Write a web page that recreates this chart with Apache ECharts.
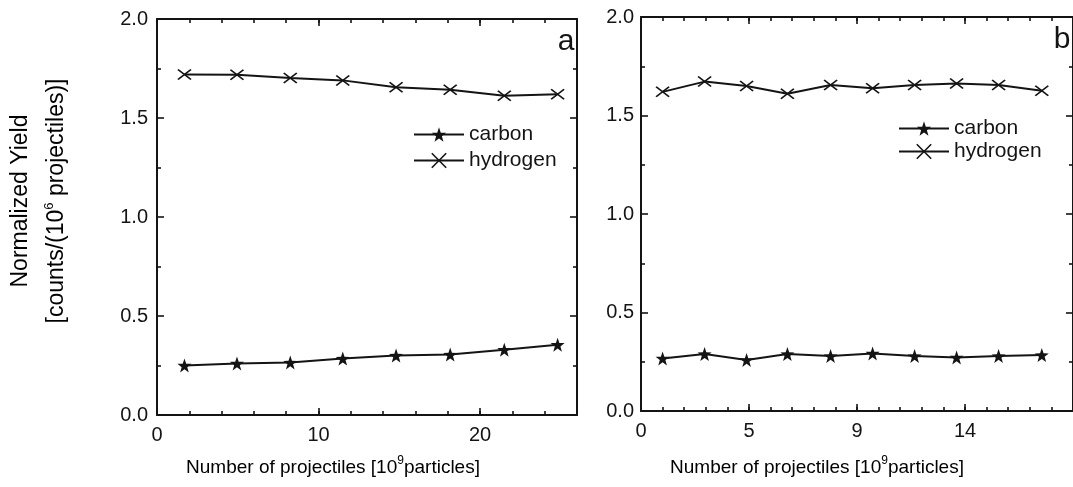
<!DOCTYPE html>
<html>
<head>
<meta charset="utf-8">
<style>
  html, body { margin: 0; padding: 0; background: #fff; }
  #chart { width: 1073px; height: 487px; }
</style>
<script src="https://cdn.jsdelivr.net/npm/echarts@6/dist/echarts.min.js"></script>
</head>
<body>
<div id="chart"></div>
<script>
// Panel a: yield versus accumulated projectiles
const panelAX = [1.7, 4.95, 8.25, 11.5, 14.8, 18.15, 21.5, 24.8];
const panelACarbon = [0.25, 0.26, 0.265, 0.285, 0.30, 0.305, 0.33, 0.355];
const panelAHydrogen = [1.72, 1.718, 1.702, 1.69, 1.655, 1.643, 1.612, 1.62];

// Panel b
const panelBX = [0.9, 2.65, 4.4, 6.1, 7.9, 9.65, 11.4, 13.15, 14.9, 16.7];
const panelBCarbon = [0.267, 0.289, 0.259, 0.289, 0.279, 0.292, 0.279, 0.272, 0.279, 0.284];
const panelBHydrogen = [1.62, 1.672, 1.65, 1.61, 1.655, 1.638, 1.655, 1.663, 1.655, 1.626];

// Axis ticks
const yTicks = [0, 0.5, 1.0, 1.5, 2.0];
const panelAXTicks = [0, 10, 20];
const panelBXTicks = [0, 4.5, 9, 13.5];

const INK = '#141414';
const FONT = '"Liberation Sans", Arial, Helvetica, sans-serif';

const STAR = 'path://M50,0L61.76,33.82L97.55,34.55L69.02,56.18L79.39,90.45L50,70L20.61,90.45L30.98,56.18L2.45,34.55L38.24,33.82Z';
const CROSS = 'path://M0,0L10,8M10,0L0,8';

const chart = echarts.init(document.getElementById('chart'), null, { renderer: 'canvas' });

function pairs(xs, ys) { return xs.map((x, i) => [x, ys[i]]); }

const tickLine = { color: INK, width: 1.6 };
const frameLine = { show: true, onZero: false, lineStyle: { color: INK, width: 2 } };
const noLine = { show: false, onZero: false };

// Four x axes per panel: labelled bottom, minor bottom, mirrored top, minor top
function xAxesFor(gridIndex, max, majors, minorStep, fmt) {
  const base = {
    type: 'value', gridIndex: gridIndex, min: 0, max: max,
    splitLine: { show: false }
  };
  return [
    Object.assign({}, base, {
      position: 'bottom', axisLine: frameLine,
      axisTick: { show: true, inside: true, length: 7, customValues: majors, lineStyle: tickLine },
      axisLabel: { show: true, customValues: majors, formatter: fmt, margin: 10, color: INK, fontSize: 20, fontFamily: FONT }
    }),
    Object.assign({}, base, {
      position: 'bottom', interval: minorStep, axisLine: noLine,
      axisTick: { show: true, inside: true, length: 4, lineStyle: tickLine },
      axisLabel: { show: false }
    }),
    Object.assign({}, base, {
      position: 'top', axisLine: frameLine,
      axisTick: { show: true, inside: true, length: 7, customValues: majors, lineStyle: tickLine },
      axisLabel: { show: false }
    }),
    Object.assign({}, base, {
      position: 'top', interval: minorStep, axisLine: noLine,
      axisTick: { show: true, inside: true, length: 4, lineStyle: tickLine },
      axisLabel: { show: false }
    })
  ];
}

function yAxesFor(gridIndex, labelMargin) {
  const base = {
    type: 'value', gridIndex: gridIndex, min: yTicks[0], max: yTicks[yTicks.length - 1], interval: 0.5,
    splitLine: { show: false },
    axisLine: frameLine,
    axisTick: { show: true, inside: true, length: 7, lineStyle: tickLine },
    minorTick: { show: true, splitNumber: 2, length: 4, lineStyle: tickLine }
  };
  return [
    Object.assign({}, base, {
      position: 'left',
      axisLabel: { show: true, margin: labelMargin, color: INK, fontSize: 20, fontFamily: FONT,
        formatter: v => v.toFixed(1) }
    }),
    Object.assign({}, base, { position: 'right', axisLabel: { show: false } })
  ];
}

function lineSeries(name, xi, yi, data, symbol, size, border) {
  return {
    name: name, type: 'line', xAxisIndex: xi, yAxisIndex: yi,
    data: data, symbol: symbol, symbolSize: size, showSymbol: true,
    lineStyle: { color: INK, width: 2 },
    itemStyle: { color: INK, borderColor: INK, borderWidth: border },
    emphasis: { disabled: true },
    animation: false, z: 3
  };
}

function legendFor(left, top, gap) {
  return {
    orient: 'vertical', left: left, top: top, padding: 0,
    itemWidth: 50, itemHeight: 18, itemGap: gap,
    selectedMode: false,
    textStyle: { color: INK, fontSize: 21, fontFamily: FONT },
    data: [
      { name: 'carbon', itemStyle: { borderWidth: 0 } },
      { name: 'hydrogen', itemStyle: { borderWidth: 1.6 } }
    ]
  };
}

const supRich = {
  n: { fontSize: 19, fontFamily: FONT, color: INK },
  s: { fontSize: 12, fontFamily: FONT, color: INK, verticalAlign: 'middle', padding: [0, 0, 14, 0] }
};

const option = {
  backgroundColor: '#ffffff',
  animation: false,
  grid: [
    { left: 157, top: 19, width: 420, height: 396 },
    { left: 641, top: 17, width: 439, height: 394 }
  ],
  xAxis: [].concat(
    xAxesFor(0, 26, panelAXTicks, 2, v => String(v)),
    xAxesFor(1, 18, panelBXTicks, 0.9, v => String(Math.round(v)))
  ),
  yAxis: [].concat(yAxesFor(0, 9), yAxesFor(1, 7)),
  legend: [legendFor(413, 124, 5), legendFor(898, 118, 2)],
  series: [
    lineSeries('carbon', 0, 0, pairs(panelAX, panelACarbon), STAR, 14, 0),
    lineSeries('hydrogen', 0, 0, pairs(panelAX, panelAHydrogen), CROSS, [13, 10], 1.6),
    lineSeries('carbon', 4, 2, pairs(panelBX, panelBCarbon), STAR, 14, 0),
    lineSeries('hydrogen', 4, 2, pairs(panelBX, panelBHydrogen), CROSS, [13, 10], 1.6)
  ],
  graphic: [
    {
      type: 'text', x: 39, y: 201, rotation: Math.PI / 2,
      style: {
        text: '{t|Normalized Yield}\n{t|[counts/(10}{s|6}{t| projectiles)]}',
        align: 'center', verticalAlign: 'middle',
        rich: {
          t: { fontSize: 23, fontFamily: FONT, color: INK, lineHeight: 36 },
          s: { fontSize: 13, fontFamily: FONT, color: INK, lineHeight: 36, verticalAlign: 'middle', padding: [0, 0, 15, 0] }
        }
      }
    },
    {
      type: 'text', x: 333, y: 468,
      style: {
        text: '{n|Number of projectiles [10}{s|9}{n|particles]}',
        align: 'center', verticalAlign: 'middle', rich: supRich
      }
    },
    {
      type: 'text', x: 817, y: 468,
      style: {
        text: '{n|Number of projectiles [10}{s|9}{n|particles]}',
        align: 'center', verticalAlign: 'middle', rich: supRich
      }
    },
    {
      type: 'text', x: 566, y: 42,
      style: { text: 'a', fontSize: 30, fontFamily: FONT, fill: INK, align: 'center', verticalAlign: 'middle' }
    },
    {
      type: 'text', x: 1062, y: 40,
      style: { text: 'b', fontSize: 30, fontFamily: FONT, fill: INK, align: 'center', verticalAlign: 'middle' }
    }
  ]
};

chart.setOption(option);
</script>
</body>
</html>
